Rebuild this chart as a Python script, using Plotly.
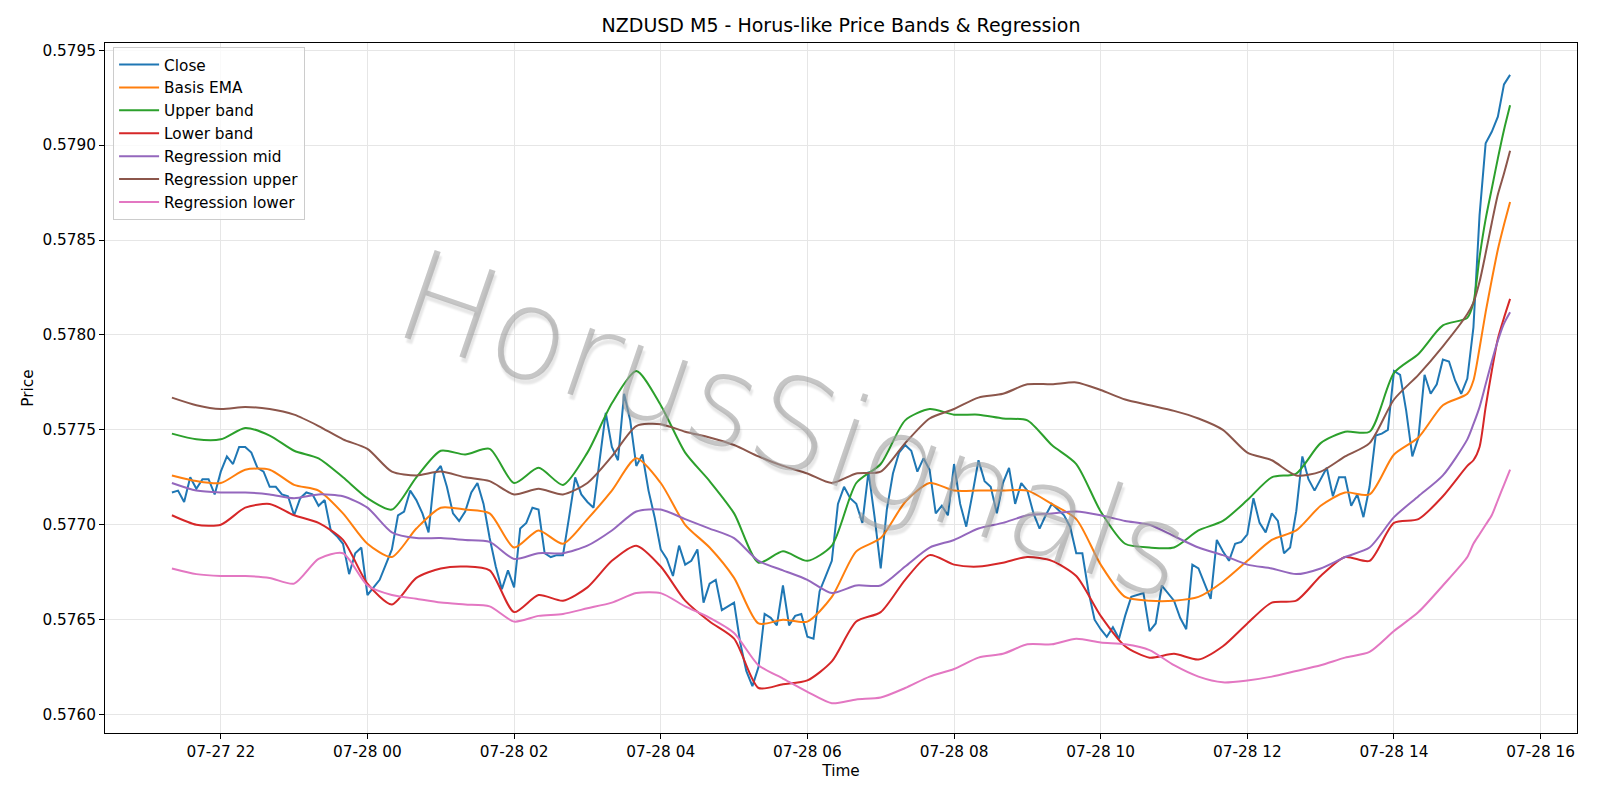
import pandas as pd
import plotly.graph_objects as go

# ---------------- data ----------------
start_time = "2025-07-27 21:20"
bar_minutes = 5

close = [
    0.57717, 0.57718, 0.57712, 0.57725, 0.57719, 0.57724, 0.57724, 0.57716, 0.57728, 0.57736,
    0.57732, 0.57741, 0.57741, 0.57738, 0.57730, 0.57728, 0.57720, 0.57720, 0.57716, 0.57715,
    0.57705, 0.57714, 0.57717, 0.57716, 0.57710, 0.57713, 0.57697, 0.57694, 0.57690, 0.57674,
    0.57685, 0.57688, 0.57663, 0.57667, 0.57671, 0.57679, 0.57687, 0.57705, 0.57707, 0.57718,
    0.57713, 0.57706, 0.57696, 0.57727, 0.57731, 0.57720, 0.57706, 0.57702, 0.57707, 0.57717,
    0.57722, 0.57711, 0.57693, 0.57678, 0.57666, 0.57676, 0.57667, 0.57698, 0.57701, 0.57709,
    0.57708, 0.57685, 0.57683, 0.57684, 0.57684, 0.57704, 0.57725, 0.57716, 0.57712, 0.57709,
    0.57735, 0.57759, 0.57741, 0.57734, 0.57769, 0.57755, 0.57731, 0.57737, 0.57718, 0.57704,
    0.57687, 0.57682, 0.57673, 0.57689, 0.57679, 0.57681, 0.57687, 0.57659, 0.57669, 0.57671,
    0.57655, 0.57657, 0.57659, 0.57638, 0.57623, 0.57615, 0.57625, 0.57653, 0.57651, 0.57647,
    0.57668, 0.57647, 0.57652, 0.57653, 0.57641, 0.57640, 0.57665, 0.57673, 0.57681, 0.57711,
    0.57720, 0.57714, 0.57711, 0.57701, 0.57728, 0.57704, 0.57677, 0.57708, 0.57727, 0.57738,
    0.57742, 0.57739, 0.57728, 0.57735, 0.57729, 0.57706, 0.57710, 0.57705, 0.57732, 0.57711,
    0.57699, 0.57716, 0.57734, 0.57723, 0.57720, 0.57706, 0.57722, 0.57730, 0.57711, 0.57722,
    0.57718, 0.57706, 0.57698, 0.57705, 0.57711, 0.57708, 0.57705, 0.57699, 0.57685, 0.57685,
    0.57665, 0.57650, 0.57645, 0.57641, 0.57646, 0.57640, 0.57652, 0.57662, 0.57663, 0.57664,
    0.57644, 0.57648, 0.57668, 0.57664, 0.57660, 0.57651, 0.57645, 0.57679, 0.57677, 0.57669,
    0.57661, 0.57692, 0.57686, 0.57681, 0.57690, 0.57691, 0.57695, 0.57714, 0.57701, 0.57696,
    0.57706, 0.57702, 0.57685, 0.57688, 0.57707, 0.57736, 0.57724, 0.57718, 0.57724, 0.57730,
    0.57715, 0.57725, 0.57725, 0.57710, 0.57716, 0.57704, 0.57720, 0.57747, 0.57748, 0.57750,
    0.57781, 0.57779, 0.57760, 0.57736, 0.57746, 0.57779, 0.57769, 0.57774, 0.57787, 0.57786,
    0.57776, 0.57769, 0.57777, 0.57804, 0.57863, 0.57901, 0.57907, 0.57915, 0.57932, 0.57937,
]

# bar positions at which the smooth series were read
band_bars = [0, 4, 8, 12, 16, 20, 24, 28, 32, 36, 40, 44, 48, 52, 56, 60, 64, 68, 72, 76,
             80, 84, 88, 92, 96, 100, 104, 108, 112, 116, 120, 124, 128, 132, 136, 140, 144,
             148, 152, 156, 160, 164, 168, 172, 176, 180, 184, 188, 192, 196, 200, 204, 208,
             212, 213, 214, 215, 216, 217, 218, 219]

basis_ema = [
    0.57726, 0.57723, 0.57722, 0.57729, 0.57729, 0.57721, 0.57718, 0.57706, 0.57690, 0.57683,
    0.57698, 0.57709, 0.57708, 0.57706, 0.57688, 0.57697, 0.57690, 0.57703, 0.57718, 0.57735,
    0.57722, 0.57700, 0.57688, 0.57672, 0.57648, 0.57650, 0.57649, 0.57662, 0.57686, 0.57693,
    0.57712, 0.57722, 0.57718, 0.57718, 0.57718, 0.57718, 0.57711, 0.57703, 0.57679, 0.57662,
    0.57660, 0.57660, 0.57662, 0.57670, 0.57681, 0.57692, 0.57697, 0.57710, 0.57717, 0.57716,
    0.57737, 0.57746, 0.57763, 0.57769,
    0.57776, 0.57793, 0.57812, 0.57829, 0.57845, 0.57858, 0.57870,
]

upper_band = [
    0.57748, 0.57745, 0.57745, 0.57751, 0.57747, 0.57739, 0.57735, 0.57725, 0.57714, 0.57708,
    0.57725, 0.57739, 0.57737, 0.57740, 0.57722, 0.57730, 0.57721, 0.57738, 0.57764, 0.57781,
    0.57763, 0.57738, 0.57723, 0.57706, 0.57680, 0.57686, 0.57681, 0.57689, 0.57722, 0.57732,
    0.57755, 0.57761, 0.57758, 0.57758, 0.57756, 0.57755, 0.57742, 0.57732, 0.57707, 0.57690,
    0.57688, 0.57688, 0.57697, 0.57702, 0.57713, 0.57725, 0.57727, 0.57743, 0.57749, 0.57749,
    0.57780, 0.57790, 0.57805, 0.57809,
    0.57817, 0.57841, 0.57861, 0.57877, 0.57893, 0.57908, 0.57921,
]

lower_band = [
    0.57705, 0.57700, 0.57700, 0.57709, 0.57711, 0.57705, 0.57701, 0.57692, 0.57669, 0.57658,
    0.57672, 0.57677, 0.57678, 0.57676, 0.57654, 0.57663, 0.57660, 0.57667, 0.57681, 0.57689,
    0.57678, 0.57660, 0.57649, 0.57640, 0.57614, 0.57616, 0.57618, 0.57628, 0.57649, 0.57654,
    0.57671, 0.57684, 0.57679, 0.57678, 0.57680, 0.57683, 0.57681, 0.57673, 0.57652, 0.57636,
    0.57630, 0.57632, 0.57629, 0.57636, 0.57648, 0.57659, 0.57660, 0.57673, 0.57683, 0.57681,
    0.57701, 0.57703, 0.57715, 0.57731,
    0.57734, 0.57741, 0.57762, 0.57781, 0.57798, 0.57809, 0.57819,
]

regression_mid = [
    0.57722, 0.57718, 0.57717, 0.57717, 0.57716, 0.57714, 0.57716, 0.57715, 0.57709, 0.57696,
    0.57693, 0.57693, 0.57692, 0.57691, 0.57682, 0.57685, 0.57685, 0.57689, 0.57697, 0.57707,
    0.57708, 0.57703, 0.57698, 0.57693, 0.57681, 0.57676, 0.57671, 0.57664, 0.57668, 0.57668,
    0.57678, 0.57688, 0.57692, 0.57698, 0.57701, 0.57705, 0.57706, 0.57707, 0.57705, 0.57702,
    0.57700, 0.57694, 0.57688, 0.57684, 0.57679, 0.57677, 0.57674, 0.57677, 0.57683, 0.57688,
    0.57704, 0.57715, 0.57726, 0.57745,
    0.57753, 0.57762, 0.57774, 0.57786, 0.57797, 0.57806, 0.57812,
]

regression_upper = [
    0.57767, 0.57763, 0.57761, 0.57762, 0.57761, 0.57758, 0.57752, 0.57745, 0.57740, 0.57728,
    0.57726, 0.57728, 0.57725, 0.57723, 0.57716, 0.57719, 0.57716, 0.57722, 0.57736, 0.57752,
    0.57753, 0.57749, 0.57746, 0.57742, 0.57736, 0.57731, 0.57727, 0.57722, 0.57727, 0.57728,
    0.57743, 0.57756, 0.57761, 0.57767, 0.57769, 0.57774, 0.57774, 0.57775, 0.57771, 0.57766,
    0.57763, 0.57760, 0.57756, 0.57750, 0.57738, 0.57734, 0.57726, 0.57728, 0.57736, 0.57743,
    0.57766, 0.57779, 0.57794, 0.57811,
    0.57817, 0.57828, 0.57843, 0.57859, 0.57874, 0.57885, 0.57897,
]

regression_lower = [
    0.57677, 0.57674, 0.57673, 0.57673, 0.57672, 0.57669, 0.57682, 0.57685, 0.57668, 0.57663,
    0.57661, 0.57659, 0.57658, 0.57657, 0.57649, 0.57652, 0.57653, 0.57656, 0.57659, 0.57664,
    0.57664, 0.57657, 0.57651, 0.57643, 0.57626, 0.57619, 0.57612, 0.57606, 0.57608, 0.57609,
    0.57614, 0.57620, 0.57624, 0.57630, 0.57632, 0.57637, 0.57637, 0.57640, 0.57638, 0.57637,
    0.57634, 0.57626, 0.57620, 0.57617, 0.57618, 0.57620, 0.57623, 0.57626, 0.57630, 0.57633,
    0.57644, 0.57654, 0.57668, 0.57683,
    0.57690, 0.57695, 0.57700, 0.57705, 0.57713, 0.57721, 0.57729,
]

y_tick_values = [0.5760, 0.5765, 0.5770, 0.5775, 0.5780, 0.5785, 0.5790, 0.5795]

# ---------------- build figure ----------------
times = pd.date_range(start=start_time, periods=len(close), freq=f"{bar_minutes}min")
band_times = times[band_bars]

series = [
    ("Close", times, close, "#1f77b4", "linear"),
    ("Basis EMA", band_times, basis_ema, "#ff7f0e", "spline"),
    ("Upper band", band_times, upper_band, "#2ca02c", "spline"),
    ("Lower band", band_times, lower_band, "#d62728", "spline"),
    ("Regression mid", band_times, regression_mid, "#9467bd", "spline"),
    ("Regression upper", band_times, regression_upper, "#8c564b", "spline"),
    ("Regression lower", band_times, regression_lower, "#e377c2", "spline"),
]

fig = go.Figure()
for name, xs, ys, color, shape in series:
    line = dict(color=color, width=2, shape=shape)
    if shape == "spline":
        line["smoothing"] = 0.7
    fig.add_trace(go.Scatter(x=xs, y=ys, mode="lines", name=name, line=line))

# matplotlib-like 5% margins on x
span = times[-1] - times[0]
x_range = [times[0] - span * 0.05, times[-1] + span * 0.05]

FONT = "DejaVu Sans, Verdana, sans-serif"
grid_color = "#e6e6e6"
FS = 15.3

fig.update_layout(
    width=1600, height=800,
    margin=dict(l=105, r=23, t=43, b=67),
    paper_bgcolor="white", plot_bgcolor="white",
    font=dict(family=FONT, size=FS, color="black"),
    title=dict(text="NZDUSD M5 - Horus-like Price Bands & Regression",
               x=0.5, xref="paper", xanchor="center",
               y=1 - 25.5 / 800, yref="container", yanchor="middle",
               font=dict(family=FONT, size=19, color="black")),
    showlegend=True,
    legend=dict(x=0.0055, y=0.994, xanchor="left", yanchor="top",
                bgcolor="rgba(255,255,255,0.8)", bordercolor="#cccccc", borderwidth=1,
                font=dict(family=FONT, size=FS, color="black"),
                itemwidth=40, tracegroupgap=0),
    xaxis=dict(
        range=x_range, type="date",
        tick0="2025-07-27 22:00", dtick=2 * 3600 * 1000, tickformat="%m-%d %H",
        showgrid=True, gridcolor=grid_color, gridwidth=1,
        showline=True, linecolor="black", linewidth=1, mirror=True,
        ticks="outside", ticklen=5, tickcolor="black", tickwidth=1,
        tickfont=dict(family=FONT, size=FS, color="black"),
        title=dict(text="Time", standoff=4, font=dict(family=FONT, size=FS)),
        zeroline=False,
    ),
    yaxis=dict(
        range=[0.575903, 0.579538],
        tickvals=y_tick_values, tickformat=".4f",
        showgrid=True, gridcolor=grid_color, gridwidth=1,
        showline=True, linecolor="black", linewidth=1, mirror=True,
        ticks="outside", ticklen=5, tickcolor="black", tickwidth=1,
        tickfont=dict(family=FONT, size=FS, color="black"),
        title=dict(text="Price", standoff=5, font=dict(family=FONT, size=FS)),
        zeroline=False,
    ),
)

# watermark
fig.add_annotation(
    text="HorusSignals", xref="paper", yref="paper", x=0.468, y=0.447,
    xanchor="center", yanchor="middle", showarrow=False, textangle=19,
    font=dict(family="DejaVu Sans", size=127, color="rgba(160,160,160,0.6)", weight=200,
              shadow="3px 4px 2px rgba(0,0,0,0.16)"),
)

fig.write_html("out.html")
